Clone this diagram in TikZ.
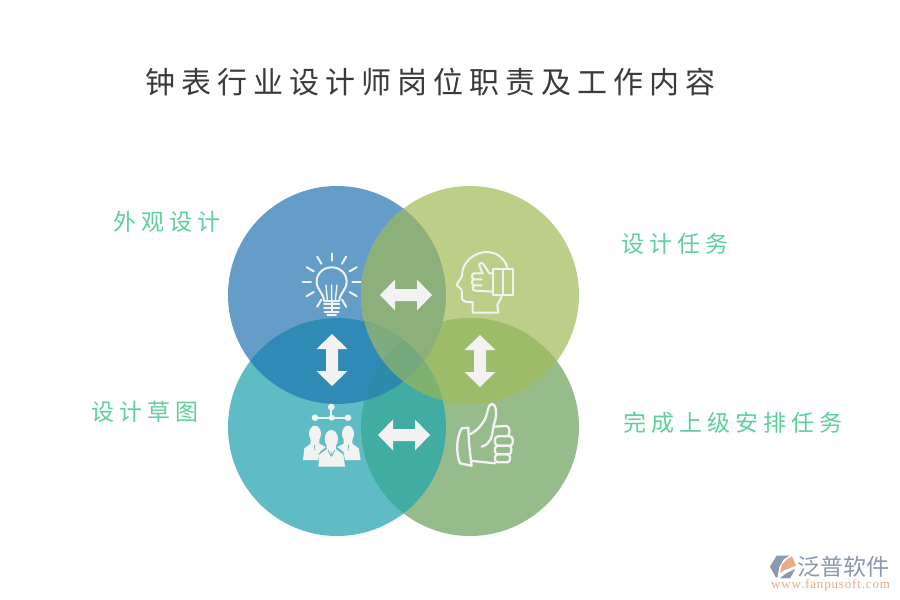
\documentclass[tikz,border=0pt]{standalone}
\usepackage{fontspec}
\newfontfamily\cjktitle[LetterSpace=20]{Noto Sans CJK SC}
\newfontfamily\cjklabel[LetterSpace=22]{Noto Sans CJK SC}
\newfontfamily\cjklogo[LetterSpace=1]{Noto Sans CJK SC}
\newfontfamily\logourl[LetterSpace=6.5]{Liberation Serif}
\definecolor{cTLc}{HTML}{649EC8}
\definecolor{cTRc}{HTML}{BCCF88}
\definecolor{cBLc}{HTML}{60BCC4}
\definecolor{cBRc}{HTML}{96BC8C}
\definecolor{pTop}{HTML}{8BB07C}
\definecolor{pLeft}{HTML}{2F8BB5}
\definecolor{pRight}{HTML}{9DBC69}
\definecolor{pBot}{HTML}{40ACA2}
\definecolor{tNoBR}{HTML}{7FAC7E}
\definecolor{tNoBL}{HTML}{8BB07A}
\definecolor{tNoTR}{HTML}{2D8AAA}
\definecolor{tNoTL}{HTML}{7FB26F}
\definecolor{qAll}{HTML}{75A87A}
\definecolor{labelgreen}{HTML}{5FCF9B}
\definecolor{titlegray}{HTML}{3A3A3A}
\definecolor{iconwhite}{HTML}{F2F2F2}
\definecolor{logogray}{HTML}{8A99AD}
\definecolor{logoorange}{HTML}{E9AA88}
\def\cTL{\clip (tl) circle (109pt);}
\def\cTR{\clip (tr) circle (109pt);}
\def\cBL{\clip (bl) circle (109pt);}
\def\cBR{\clip (br) circle (109pt);}
\def\allfill#1{\fill[#1] (0,0) rectangle (900,600);}
\tikzset{
  titletext/.style={text=titlegray,inner sep=0pt,font=\cjktitle\fontsize{30}{30}\selectfont},
  labeltext/.style={text=labelgreen,inner sep=0pt,font=\cjklabel\fontsize{23}{23}\selectfont},
  iconline/.style={draw=iconwhite,line width=2pt,line cap=round,line join=round},
  iconfill/.style={fill=iconwhite},
  biarrow/.style={fill=iconwhite}
}
\begin{document}
\begin{tikzpicture}[x=1pt,y=-1pt]
\useasboundingbox (0,0) rectangle (900,600);
\fill[white] (0,0) rectangle (900,600);
\coordinate (tl) at (337,295);
\coordinate (tr) at (470,295);
\coordinate (bl) at (337,427);
\coordinate (br) at (470,427);
% single discs
\fill[cTLc] (tl) circle (109pt);
\fill[cTRc] (tr) circle (109pt);
\fill[cBLc] (bl) circle (109pt);
\fill[cBRc] (br) circle (109pt);
% pairwise overlaps
\begin{scope}\cTL\cTR\allfill{pTop}\end{scope}
\begin{scope}\cTL\cBL\allfill{pLeft}\end{scope}
\begin{scope}\cTR\cBR\allfill{pRight}\end{scope}
\begin{scope}\cBL\cBR\allfill{pBot}\end{scope}
% triple overlaps
\begin{scope}\cTL\cTR\cBL\allfill{tNoBR}\end{scope}
\begin{scope}\cTL\cTR\cBR\allfill{tNoBL}\end{scope}
\begin{scope}\cTL\cBL\cBR\allfill{tNoTR}\end{scope}
\begin{scope}\cTR\cBL\cBR\allfill{tNoTL}\end{scope}
\begin{scope}\cTL\cTR\cBL\cBR\allfill{qAll}\end{scope}
% double arrows
\fill[biarrow] (380,295) -- (395,279.5) -- (395,289) -- (417,289) -- (417,279.5) -- (432,295) -- (417,310.5) -- (417,301) -- (395,301) -- (395,310.5) -- cycle;
\fill[biarrow] (378,435) -- (393,419.5) -- (393,429) -- (415,429) -- (415,419.5) -- (430,435) -- (415,450.5) -- (415,441) -- (393,441) -- (393,450.5) -- cycle;
\fill[biarrow] (332,334) -- (347.5,349) -- (338,349) -- (338,371) -- (347.5,371) -- (332,386) -- (316.5,371) -- (326,371) -- (326,349) -- (316.5,349) -- cycle;
\fill[biarrow] (480,335) -- (495.5,350) -- (486,350) -- (486,372) -- (495.5,372) -- (480,387) -- (464.5,372) -- (474,372) -- (474,350) -- (464.5,350) -- cycle;
% bulb icon
\begin{scope}[shift={(290,240)},scale=1/3]
\foreach \a in {0,30,60,120,150,180,210,240,270,300,330}{
  \draw[iconline] (125,125)++(\a:-62) -- ++(\a:-25);}
\draw[iconline] (125,40) -- (125,62);
\draw[iconline] (102,183) .. controls (102,160) and (80,150) .. (80,125) .. controls (80,100) and (100,82) .. (125,82) .. controls (150,82) and (170,100) .. (170,125) .. controls (170,150) and (148,160) .. (148,183) -- cycle;
\draw[iconline,line width=1.4pt] (112,180) -- (108,135) (125,180) -- (125,165) (125,165) -- (125,135) (136,180) -- (141,135);
\draw[iconline] (102,193) -- (148,193) (102,204) -- (148,204) (104,215) -- (146,215) (112,226) -- (138,226);
\end{scope}
% head with hand icon
\begin{scope}[shift={(290,240)},scale=1/3]
\draw[iconline] (652,82) .. controls (645,60) and (625,36) .. (590,36) .. controls (555,36) and (515,65) .. (516,108) -- (500,135) -- (515,150) -- (516,175) .. controls (518,185) and (530,188) .. (548,186) -- (548,218) -- (625,218) -- (622,195) .. controls (625,185) and (633,180) .. (636,165);
\draw[iconline] (610,88) rectangle (668,165);
\draw[iconline] (640,88) -- (640,165);
\draw[iconline] (610,100) -- (598,100) -- (580,72) .. controls (574,66) and (566,70) .. (568,78) -- (578,100) -- (552,100) .. controls (544,102) and (544,116) .. (552,118) -- (575,118) (552,118) .. controls (544,120) and (544,134) .. (552,136) -- (575,136) (554,136) .. controls (546,138) and (546,150) .. (554,152) -- (610,155);
\fill[iconwhite] (624,153) circle (1pt);
\end{scope}
% people icon
\begin{scope}[shift={(290,395)},scale=1/3]
\draw[iconline] (124,36) -- (124,68) (75,68) -- (174,68);
\fill[iconfill] (124,36) circle (10) (75,68) circle (10) (125,68) circle (9) (174,68) circle (10);
\fill[iconfill] (75,116) ellipse (18 and 24) (174,116) ellipse (18 and 24);
\fill[iconfill] (39,195) -- (43,160) -- (62,146) -- (62,130) -- (88,130) -- (88,146) -- (108,156) -- (90,170) -- (84,195) -- cycle;
\fill[iconfill] (212,195) -- (206,160) -- (187,146) -- (187,130) -- (161,130) -- (161,146) -- (141,156) -- (160,170) -- (165,195) -- cycle;
\fill[iconfill] (124,132) ellipse (20 and 27);
\fill[iconfill] (85,215) -- (88,178) -- (110,162) -- (110,150) -- (138,150) -- (138,162) -- (160,178) -- (165,215) -- cycle;
\draw[cBLc,line width=.8pt] (124,170) -- (124,186) (114,165) -- (122,182) (134,165) -- (126,182) (73,150) -- (75,166) (176,150) -- (174,166);
\draw[cBLc,line width=.8pt] (85,178) -- (110,160) (163,178) -- (138,160);
\end{scope}
% thumbs-up icon
\begin{scope}[shift={(290,395)},scale=1/3]
\draw[iconline,line width=2.3pt] (535,98) -- (515,100) .. controls (498,130) and (498,175) .. (510,205) -- (545,212) .. controls (540,175) and (535,130) .. (535,98) -- cycle;
\draw[iconline,line width=2.3pt] (540,118) .. controls (565,105) and (585,80) .. (590,58) .. controls (594,40) and (598,28) .. (606,27) .. controls (618,28) and (620,50) .. (617,70) -- (610,95) -- (650,93) .. controls (660,94) and (660,118) .. (655,120);
\draw[iconline,line width=2.3pt] (610,97) .. controls (605,125) and (605,145) .. (575,155);
\draw[iconline,line width=2.3pt,rounded corners=3pt] (615,124) rectangle (668,152);
\draw[iconline,line width=2.3pt,rounded corners=3pt] (615,152) rectangle (664,178);
\draw[iconline,line width=2.3pt,rounded corners=3pt] (615,178) rectangle (660,202);
\draw[iconline,line width=2.3pt] (548,198) -- (615,205);
\end{scope}
% texts
\node[titletext,anchor=west] (title) at (145,82) {钟表行业设计师岗位职责及工作内容};
\node[labeltext,anchor=west] (lab1) at (113,222) {外观设计};
\node[labeltext,anchor=west] (lab2) at (621,244) {设计任务};
\node[labeltext,anchor=west] (lab3) at (91,412) {设计草图};
\node[labeltext,anchor=west] (lab4) at (623,423) {完成上级安排任务};
% logo
\begin{scope}[shift={(760,545)},scale=1/3]
\fill[logogray] (30,65) -- (50,32) -- (88,32) -- (70,44) -- (58,66) -- (52,98) -- (48,98) -- cycle;
\fill[logoorange] (96,34) -- (108,62) -- (72,76) -- (60,84) -- (66,58) -- (80,44) -- cycle;
\fill[logogray] (60,100) -- (90,100) -- (106,72) -- (80,84) -- cycle;
\end{scope}
\node[inner sep=0pt,anchor=west,text=logogray,font=\cjklogo\fontsize{23}{23}\selectfont] (logoname) at (797,567) {泛普软件};
\node[inner sep=0pt,anchor=west,text=logoorange,font=\logourl\fontsize{13}{13}\selectfont] (logourl) at (771,585.5) {www.fanpusoft.com};
\end{tikzpicture}
\end{document}
